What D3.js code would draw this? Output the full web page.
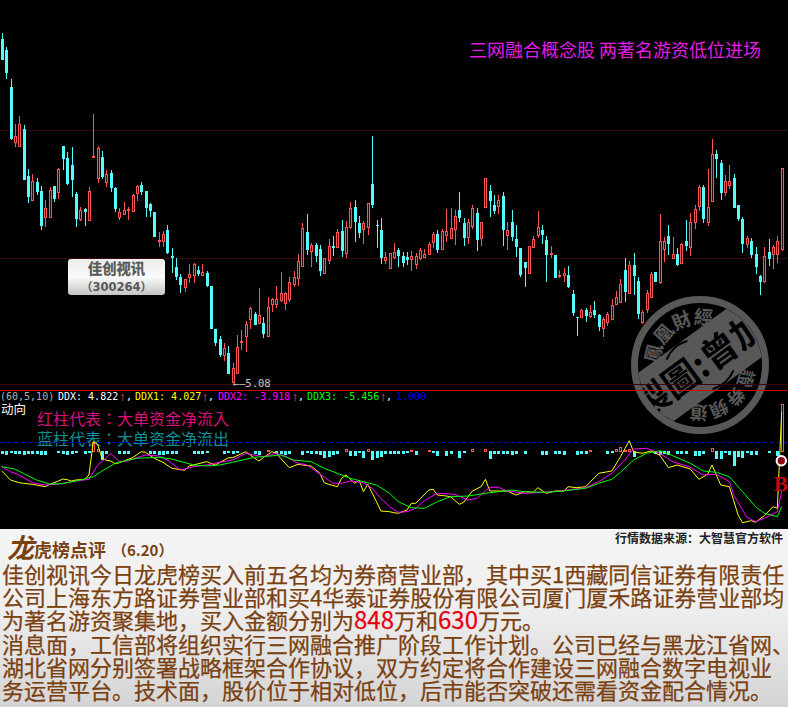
<!DOCTYPE html>
<html>
<head>
<meta charset="utf-8">
<script src="https://cdnjs.cloudflare.com/ajax/libs/d3/7.8.5/d3.min.js"></script>
<style>
html, body { margin: 0; padding: 0; background: #000; }
svg { display: block; }
</style>
</head>
<body>
<div id="chart"></div>
<script>
// daily candles
var open = [
  8.52,8.41,8.04,7.49,7.45,7.62,7.15,6.91,7.09,7.00,
  6.74,6.74,7.05,6.99,7.45,7.33,7.26,6.97,6.72,6.82,
  6.71,7.34,7.13,7.34,7.09,7.18,7.03,6.74,6.77,6.81,
  6.80,6.98,7.06,7.00,6.87,6.79,6.50,6.50,6.61,6.35,
  6.24,6.14,6.04,6.14,6.16,6.21,6.16,6.18,6.05,5.62,
  5.52,5.36,5.38,5.09,5.18,5.49,5.55,5.72,5.77,5.68,
  5.68,5.55,5.87,5.87,5.91,5.88,5.92,6.07,6.13,6.25,
  6.59,6.40,6.46,6.42,6.18,6.31,6.45,6.44,6.60,6.38,
  6.64,6.84,6.68,6.62,6.64,7.07,6.66,6.61,6.31,6.23,
  6.34,6.41,6.35,6.34,6.32,6.27,6.33,6.34,6.37,6.49,
  6.57,6.42,6.56,6.53,6.62,6.81,6.68,6.54,6.65,6.78,
  6.53,6.84,7.00,6.86,6.85,6.95,6.56,6.69,6.52,6.43,
  6.29,6.18,6.44,6.56,6.61,6.51,6.37,6.36,6.15,6.16,
  6.16,5.97,5.74,5.74,5.81,5.75,5.81,5.76,5.63,5.69,
  5.72,5.87,5.89,6.21,5.98,6.26,6.10,5.69,5.82,5.94,
  6.19,6.09,6.42,6.55,6.33,6.37,6.28,6.50,6.44,6.69,
  6.85,7.04,6.69,6.90,7.37,7.28,6.99,7.06,7.13,6.86,
  6.72,6.47,6.50,6.37,6.15,6.10,6.39,6.37,6.37,6.42
];
var close = [
  8.31,8.18,7.52,7.55,7.67,7.11,6.94,7.10,6.99,6.65,
  6.83,7.01,6.92,7.22,7.32,7.07,7.11,6.72,6.81,6.79,
  7.00,7.35,7.43,7.14,7.17,7.03,6.82,6.79,6.81,6.82,
  6.96,7.05,6.99,6.83,6.80,6.54,6.51,6.57,6.38,6.33,
  6.14,6.06,6.12,6.17,6.27,6.17,6.19,6.05,5.62,5.48,
  5.36,5.43,5.17,5.23,5.44,5.50,5.67,5.83,5.66,5.76,
  5.57,5.84,5.92,5.92,5.98,5.98,6.09,6.14,6.30,6.63,
  6.41,6.46,6.35,6.20,6.33,6.45,6.43,6.59,6.40,6.64,
  6.83,6.69,6.58,6.68,6.88,6.86,6.65,6.33,6.34,6.38,
  6.39,6.35,6.28,6.31,6.35,6.35,6.41,6.37,6.47,6.57,
  6.41,6.60,6.60,6.63,6.75,6.73,6.53,6.69,6.83,6.51,
  6.69,7.13,6.90,6.80,6.91,6.61,6.61,6.54,6.44,6.16,
  6.23,6.45,6.52,6.64,6.56,6.36,6.38,6.13,6.16,6.18,
  6.04,5.78,5.73,5.81,5.75,5.79,5.76,5.64,5.72,5.77,
  5.86,5.94,6.07,5.99,6.26,6.15,5.77,5.79,5.98,6.17,
  6.09,6.50,6.50,6.47,6.37,6.26,6.47,6.45,6.69,6.82,
  7.04,6.72,6.84,7.37,7.32,6.98,7.10,7.10,6.83,6.72,
  6.47,6.53,6.36,6.24,6.09,6.35,6.32,6.44,6.50,7.23
];
var high = [
  8.58,8.44,8.12,7.67,7.75,7.66,7.22,7.17,7.13,7.05,
  6.91,7.04,7.05,7.23,7.45,7.39,7.44,6.99,6.84,6.83,
  7.04,7.77,7.45,7.40,7.21,7.21,7.04,6.83,6.89,6.84,
  6.97,7.06,7.09,7.00,6.88,6.79,6.59,6.60,6.66,6.43,
  6.33,6.17,6.12,6.27,6.28,6.25,6.27,6.20,6.05,5.62,
  5.55,5.48,5.45,5.28,5.56,5.61,5.70,5.84,5.79,6.03,
  5.74,5.94,5.93,6.05,6.19,5.99,6.14,6.20,6.37,6.68,
  6.77,6.48,6.48,6.46,6.33,6.52,6.55,6.62,6.71,6.70,
  6.89,6.91,6.75,6.70,6.88,7.55,6.71,6.73,6.39,6.38,
  6.48,6.43,6.39,6.39,6.40,6.38,6.43,6.42,6.49,6.59,
  6.61,6.62,6.82,6.83,6.81,6.99,6.73,6.72,6.86,6.83,
  6.69,7.13,7.06,6.96,6.96,6.99,6.69,6.81,6.66,6.43,
  6.29,6.45,6.55,6.80,6.66,6.55,6.45,6.36,6.21,6.23,
  6.25,6.01,5.74,5.82,5.83,5.86,5.90,5.77,5.74,5.79,
  5.92,6.00,6.12,6.33,6.30,6.38,6.14,5.81,6.01,6.19,
  6.19,6.77,6.54,6.66,6.54,6.43,6.48,6.71,6.78,6.86,
  7.06,7.06,7.22,7.52,7.41,7.31,7.16,7.26,7.17,6.86,
  6.74,6.55,6.53,6.44,6.16,6.44,6.52,6.46,6.55,7.23
];
var low = [
  8.31,8.12,7.51,7.44,7.45,7.11,6.88,6.91,6.96,6.61,
  6.64,6.74,6.89,6.92,7.21,7.06,6.94,6.64,6.70,6.65,
  6.71,7.34,7.08,7.12,7.04,6.99,6.79,6.71,6.77,6.71,
  6.80,6.90,6.96,6.74,6.74,6.54,6.44,6.44,6.37,6.18,
  6.11,5.98,5.99,6.08,6.08,6.15,6.15,6.04,5.62,5.45,
  5.34,5.30,5.17,5.08,5.17,5.41,5.39,5.62,5.66,5.67,
  5.53,5.55,5.79,5.83,5.89,5.81,5.89,6.04,6.05,6.24,
  6.36,6.24,6.29,6.15,6.18,6.27,6.35,6.43,6.34,6.33,
  6.62,6.49,6.53,6.47,6.56,6.83,6.43,6.27,6.27,6.23,
  6.32,6.24,6.24,6.26,6.20,6.22,6.31,6.33,6.37,6.43,
  6.38,6.41,6.49,6.52,6.46,6.69,6.45,6.47,6.62,6.40,
  6.45,6.84,6.74,6.77,6.77,6.45,6.41,6.50,6.34,6.14,
  6.04,6.18,6.44,6.53,6.47,6.09,6.33,6.13,6.13,6.09,
  6.03,5.75,5.55,5.73,5.69,5.73,5.73,5.60,5.54,5.65,
  5.71,5.86,5.88,5.89,5.97,5.96,5.72,5.67,5.78,5.93,
  6.09,6.07,6.29,6.36,6.32,6.25,6.27,6.40,6.35,6.62,
  6.80,6.68,6.65,6.90,7.13,6.91,6.95,7.02,6.83,6.70,
  6.38,6.43,6.33,6.17,5.96,6.08,6.25,6.22,6.28,6.40
];
var priceGrid = [7.61, 6.335, 5.07];

// DDX bars, one per candle
var ddx = [
  -.2,-.25,-.1,-.2,-.2,-.3,-.2,-.2,-.2,-.25,
  -.25,.1,.1,-.1,-.15,-.25,-.2,-.1,.1,-.2,
  -.1,1.0,.3,-.8,-.2,.1,.1,-.2,-.2,-.2,
  .05,.1,.15,.15,-.2,-.2,-.25,-.25,-.2,-.2,
  -.2,.05,.1,.1,-.2,-.2,-.2,-.1,.1,.1,
  .1,-.2,-.1,-.2,-.1,.1,.1,.1,-.2,-.25,
  .1,.25,.05,-.2,-.2,-.3,-.2,.1,.1,-.25,
  -.05,-.2,-.2,-.3,-.55,-.5,-.25,-.2,.05,.35,
  -.35,-.35,-.05,-.55,.35,-.8,-.55,-.5,-.2,-.2,
  -.2,-.2,-.2,-.05,.25,-.25,.1,.15,.2,-.1,
  -.4,.05,-.4,-.2,.05,-.6,-.1,.1,.35,.05,
  .05,.35,-.7,-.2,-.2,-.2,-.2,-.3,-.15,.1,
  -.2,.05,.05,.1,-.3,-.3,.05,-.2,-.2,-.25,
  .1,.05,-.25,-.15,-.15,.25,.1,.1,.1,-.15,
  -.1,.3,.5,.25,.3,-.5,.05,.1,.1,.1,
  -.2,-.3,-.2,-.3,.05,-.15,-.2,-.2,.05,-.4,
  -.4,-.15,.15,.4,-.65,-.65,-.1,-.3,-1.4,-.5,
  -.55,-.1,-.25,-.3,.1,.1,-.1,.15,-.35,4.822
];
var ddxThreshold = 1.000;

// indicator lines, the turning points of each with the candle they fall on
var ddx1Idx = [0,2,4,5,7,10,11,13,14,15,16,17,19,20,21,22,23,24,25,26,27,28,30,32,33,35,37,39,42,43,47,49,52,53,56,57,59,
  60,62,63,64,66,68,69,71,73,74,75,77,78,79,81,82,83,84,86,87,89,90,91,93,94,95,98,99,100,102,103,105,106,108,110,111,112,114,116,118,120,
  122,123,125,127,129,130,132,134,137,140,142,144,145,147,149,151,153,155,158,160,162,163,165,167,169,170,172,173,175,177,178,179];
var ddx1 = [-1.90,-2.80,-3.07,-3.13,-3.23,-3.47,-3.23,-2.90,-2.70,-2.77,-2.90,-2.80,-2.73,-2.30,1.03,.77,-.63,-.83,-.90,-1.17,-1.07,-.90,-.57,.03,-.03,-.63,-1.03,-1.63,-1.83,-1.40,-.97,-1.30,-.57,-.57,.03,-.30,-.90,
  -.57,.03,-.13,-.63,-1.57,-1.23,-1.30,-1.40,-2.13,-3.07,-3.23,-3.47,-2.63,-2.30,-3.13,-2.80,-3.97,-3.23,-4.97,-5.90,-5.97,-6.07,-6.13,-5.80,-5.13,-5.13,-3.80,-3.73,-4.30,-4.40,-4.47,-5.23,-5.03,-3.90,-3.47,-2.73,-3.90,-3.90,-3.90,-4.30,-3.97,
  -4.03,-3.57,-4.13,-3.90,-3.90,-3.47,-3.57,-3.47,-2.13,-1.90,-.47,1.13,.03,-.13,.10,-.30,-1.57,-1.30,-1.70,-2.73,-2.23,-1.30,-3.30,-3.47,-6.30,-7.07,-6.87,-7.03,-6.37,-5.47,-5.63,4.027];

var ddx2Idx = [0,2,4,7,10,13,16,20,21,22,23,25,27,29,30,33,36,38,41,44,47,50,53,56,59,
  60,63,65,68,70,72,75,76,78,80,83,85,87,89,91,93,95,97,100,104,107,109,112,114,116,120,
  124,128,131,134,137,140,143,145,148,151,154,158,161,164,167,168,171,173,175,178,179];
var ddx2 = [-1.47,-1.97,-2.30,-3.07,-3.30,-3.20,-2.97,-2.73,-2.03,-1.30,-.97,-.13,-.97,-.90,-.70,-.30,-.40,-.80,-1.80,-1.47,-1.30,-1.03,-.80,-.13,-.40,
  -.47,-.13,-.40,-1.13,-1.30,-1.90,-2.80,-3.13,-3.13,-2.90,-3.07,-3.63,-4.63,-5.47,-6.03,-5.97,-5.63,-4.87,-4.13,-4.23,-4.80,-4.63,-3.53,-3.53,-3.90,-4.13,
  -4.03,-3.90,-3.73,-3.57,-2.97,-2.13,-.80,.30,.37,-.13,-.97,-1.53,-2.30,-2.23,-2.97,-4.30,-6.53,-6.97,-6.63,-5.97,-3.918];

var ddx3Idx = [0,3,6,8,11,14,18,21,23,26,28,31,36,39,44,47,50,53,58,
  60,64,67,71,74,77,80,83,86,89,91,94,97,100,103,107,111,114,117,120,
  125,129,134,137,140,142,145,148,151,154,158,161,164,167,170,173,175,178,179];
var ddx3 = [-1.47,-1.70,-2.37,-2.80,-3.20,-3.17,-2.80,-2.47,-1.90,-1.13,-.90,-.63,-.53,-.70,-1.30,-1.40,-1.30,-1.03,-.53,
  -.47,-.30,-.80,-.97,-1.63,-2.13,-2.63,-2.97,-3.30,-4.13,-4.97,-5.57,-5.63,-4.97,-4.47,-4.40,-4.13,-3.97,-3.80,-3.97,
  -4.03,-3.90,-3.63,-3.13,-2.73,-2.03,-.80,-.13,.13,-.37,-1.13,-1.90,-2.03,-2.47,-3.97,-5.47,-6.13,-6.47,-5.456];

var titleText = "三网融合概念股 两著名游资低位进场";
var lowLabel = 5.08;
var bodyLines = [
  [["佳创视讯今日龙虎榜买入前五名均为券商营业部，其中买1西藏同信证券有限责任", 0]],
  [["公司上海东方路证券营业部和买4华泰证券股份有限公司厦门厦禾路证券营业部均", 0]],
  [["为著名游资聚集地，买入金额分别为", 0], ["848", 1], ["万和", 0], ["630", 1], ["万元。", 0]],
  [["消息面，工信部将组织实行三网融合推广阶段工作计划。公司已经与黑龙江省网、", 0]],
  [["湖北省网分别签署战略框架合作协议，双方约定将合作建设三网融合数字电视业", 0]],
  [["务运营平台。技术面，股价位于相对低位，后市能否突破还需看资金配合情况。", 0]]
];

var width = 788, height = 707;
var CYAN = "#54fcfc", RED = "#ff5454";
var CJK = "'Noto Sans CJK SC', sans-serif";
var CJKT = "'Noto Sans CJK TC', sans-serif";
var MONO = "'DejaVu Sans Mono', monospace";

var svg = d3.select("#chart").append("svg")
    .attr("width", width)
    .attr("height", height)
    .style("background", "#000");

var defs = svg.append("defs");

var x = d3.scaleLinear().domain([0, open.length - 1]).range([1.8, 781.7]);
var yPrice = d3.scaleLinear().domain([8.91, 5.0]).range([0, 391]);
var yDdx = d3.scaleLinear().domain([6.1, -7.7]).range([391, 529]);

function px(v) { return Math.round(v) + 0.5; }

// stamp first, the chart draws over it
drawStamp(700, 365, 69);

// price grid
svg.selectAll(".grid").data(priceGrid).enter().append("line")
    .attr("x1", 0).attr("x2", width)
    .attr("y1", function(d) { return px(yPrice(d)); })
    .attr("y2", function(d) { return px(yPrice(d)); })
    .attr("stroke", "#3c0606")
    .attr("shape-rendering", "crispEdges");

// candles
var candles = svg.append("g").attr("shape-rendering", "crispEdges")
    .selectAll("g").data(open).enter().append("g")
    .each(function(o, i) {
        var g = d3.select(this);
        var up = close[i] >= o;
        var col = up ? RED : CYAN;
        var cx = Math.round(x(i));
        var top = yPrice(Math.max(o, close[i]));
        var bot = yPrice(Math.min(o, close[i]));
        g.append("line")
            .attr("x1", cx + 0.5).attr("x2", cx + 0.5)
            .attr("y1", yPrice(high[i])).attr("y2", top)
            .attr("stroke", col);
        g.append("line")
            .attr("x1", cx + 0.5).attr("x2", cx + 0.5)
            .attr("y1", bot).attr("y2", yPrice(low[i]))
            .attr("stroke", col);
        if (up) {
            g.append("rect")
                .attr("x", cx - 1 + 0.5).attr("y", px(top))
                .attr("width", 2).attr("height", Math.max(0, Math.round(bot - top)))
                .attr("fill", "#2a0808").attr("stroke", col);
        } else {
            g.append("rect")
                .attr("x", cx - 1).attr("y", Math.round(top))
                .attr("width", 3).attr("height", Math.max(1, Math.round(bot - top)))
                .attr("fill", col);
        }
    });

// low annotation
svg.append("text")
    .attr("x", x(53)).attr("y", yPrice(lowLabel) + 4)
    .attr("font-family", MONO).attr("font-size", 10.5)
    .attr("fill", "#c8c8c8")
    .text("←—" + lowLabel.toFixed(2));

// title
svg.append("text")
    .attr("x", 469).attr("y", 56.5)
    .attr("font-family", CJK).attr("font-size", 18)
    .attr("fill", "#e31ce3")
    .attr("xml:space", "preserve")
    .text(titleText);

// stock label
var lab = defs.append("linearGradient").attr("id", "labFill")
    .attr("x1", 0).attr("y1", 0).attr("x2", 0).attr("y2", 1);
lab.append("stop").attr("offset", 0).attr("stop-color", "#ececec");
lab.append("stop").attr("offset", 0.5).attr("stop-color", "#fbfbfb");
lab.append("stop").attr("offset", 1).attr("stop-color", "#c4c4c4");
svg.append("rect")
    .attr("x", 68).attr("y", 259).attr("width", 97).attr("height", 36)
    .attr("rx", 3).attr("fill", "url(#labFill)");
svg.append("text")
    .attr("x", 116.5).attr("y", 274)
    .attr("text-anchor", "middle")
    .attr("font-family", CJK).attr("font-weight", "bold").attr("font-size", 14.3)
    .attr("fill", "#585858")
    .attr("stroke", "#585858").attr("stroke-width", 0.3)
    .text("佳创视讯");
svg.append("text")
    .attr("x", 116.5).attr("y", 291)
    .attr("text-anchor", "middle")
    .attr("font-family", "'DejaVu Sans', " + CJK).attr("font-weight", "bold").attr("font-size", 11.5)
    .attr("fill", "#585858")
    .text("（300264）");

// panel separator
svg.append("line")
    .attr("x1", 0).attr("x2", width).attr("y1", 390.5).attr("y2", 390.5)
    .attr("stroke", "#d40000").attr("shape-rendering", "crispEdges");

// indicator header
var hdrY = 400;
function hdr(px0, s, col) {
    svg.append("text").attr("x", px0).attr("y", hdrY)
        .attr("font-family", MONO).attr("font-size", 10)
        .attr("fill", col).attr("xml:space", "preserve")
        .text(s);
}
function arrow(px0) {
    svg.append("text").attr("x", px0).attr("y", hdrY + 0.5)
        .attr("text-anchor", "middle")
        .attr("font-family", "'Liberation Sans', sans-serif").attr("font-size", 13)
        .attr("fill", RED)
        .text("↑");
}
hdr(0, "(60,5,10)", "#b0b0b0");
hdr(58, "DDX: " + ddx[ddx.length - 1].toFixed(3), "#ffffff");
arrow(122.5);
hdr(126, ",", "#ffffff");
hdr(135, "DDX1: " + ddx1[ddx1.length - 1].toFixed(3), "#ffff00");
arrow(205);
hdr(208, ",", "#ffffff");
hdr(218, "DDX2: " + ddx2[ddx2.length - 1].toFixed(3), "#ff00ff");
arrow(295);
hdr(298, ",", "#ffffff");
hdr(307, "DDX3: " + ddx3[ddx3.length - 1].toFixed(3), "#00ff00");
arrow(383);
hdr(386, ",", "#ffffff");
hdr(396, ddxThreshold.toFixed(3), "#0000e0");

svg.append("text").attr("x", 1).attr("y", 414)
    .attr("font-family", CJK).attr("font-size", 12.5).attr("fill", "#ffffff")
    .text("动向");

svg.append("text").attr("x", 37).attr("y", 424.5)
    .attr("font-family", CJKT).attr("font-size", 16).attr("fill", "#d8107c")
    .text("红柱代表：大单资金净流入");
svg.append("text").attr("x", 37).attr("y", 445)
    .attr("font-family", CJKT).attr("font-size", 16).attr("fill", "#0e9096")
    .text("蓝柱代表：大单资金净流出");

// threshold line
svg.append("line")
    .attr("x1", 0).attr("x2", width)
    .attr("y1", px(yDdx(ddxThreshold))).attr("y2", px(yDdx(ddxThreshold)))
    .attr("stroke", "#0000d8")
    .attr("stroke-dasharray", "4,3")
    .attr("shape-rendering", "crispEdges");

// DDX bars
svg.append("g").attr("shape-rendering", "crispEdges")
    .selectAll("rect").data(ddx).enter().append("rect")
    .each(function(d, i) {
        var cx = Math.round(x(i));
        var zero = Math.round(yDdx(0)) - 1;
        var r = d3.select(this);
        if (d >= 0) {
            var yy = Math.round(yDdx(d));
            r.attr("x", cx - 0.5).attr("y", yy + 0.5)
                .attr("width", 2).attr("height", Math.max(0, zero - yy))
                .attr("fill", "none").attr("stroke", RED);
        } else {
            r.attr("x", cx - 1).attr("y", zero)
                .attr("width", 3).attr("height", Math.max(1, Math.round(yDdx(d) - zero)))
                .attr("fill", CYAN);
        }
    });

// lines
var line = d3.line()
    .x(function(d) { return x(d[0]); })
    .y(function(d) { return yDdx(d[1]); });

var series = [
    { idx: ddx1Idx, val: ddx1, col: "#ffff00" },
    { idx: ddx2Idx, val: ddx2, col: "#ff00ff" },
    { idx: ddx3Idx, val: ddx3, col: "#00ff00" }
];
series.forEach(function(s) {
    svg.append("path")
        .datum(s.idx.map(function(k, j) { return [k, s.val[j]]; }))
        .attr("d", line)
        .attr("fill", "none")
        .attr("stroke", s.col)
        .attr("stroke-width", 1);
});

// buy signal
var lastX = x(open.length - 1);
svg.append("circle").attr("cx", lastX - 0.4).attr("cy", 460.7).attr("r", 4.7)
    .attr("fill", "#8a0a10").attr("stroke", "#ffffff").attr("stroke-width", 2);
svg.append("text")
    .attr("x", lastX - 0.8).attr("y", 491)
    .attr("text-anchor", "middle")
    .attr("font-family", "'Liberation Serif', serif").attr("font-weight", "bold").attr("font-size", 21)
    .attr("fill", "#c80a0a")
    .text("B");

// commentary panel
var panel = defs.append("linearGradient").attr("id", "panelFill")
    .attr("x1", 0).attr("y1", 0).attr("x2", 0).attr("y2", 1);
panel.append("stop").attr("offset", 0).attr("stop-color", "#f4f4f4");
panel.append("stop").attr("offset", 0.45).attr("stop-color", "#eeeeee");
panel.append("stop").attr("offset", 1).attr("stop-color", "#d4d4d4");
svg.append("rect")
    .attr("x", 0).attr("y", 529).attr("width", width).attr("height", height - 529)
    .attr("fill", "url(#panelFill)");

var BROWN = "#7a4010";
svg.append("text").attr("x", 7).attr("y", 558)
    .attr("font-family", CJK).attr("font-weight", "bold").attr("font-style", "italic").attr("font-size", 27)
    .attr("fill", BROWN).text("龙");
svg.append("text").attr("x", 34).attr("y", 557)
    .attr("font-family", CJK).attr("font-weight", "bold").attr("font-size", 18)
    .attr("fill", BROWN).text("虎榜点评");
svg.append("text").attr("x", 112).attr("y", 556)
    .attr("font-family", CJK).attr("font-weight", "bold").attr("font-size", 15)
    .attr("fill", BROWN).text("（6.20）");
svg.append("text").attr("x", 783).attr("y", 543)
    .attr("text-anchor", "end")
    .attr("font-family", CJK).attr("font-weight", "bold").attr("font-size", 12)
    .attr("fill", "#222222").text("行情数据来源：大智慧官方软件");

var body = svg.append("g").selectAll("text").data(bodyLines).enter().append("text")
    .attr("x", 2)
    .attr("y", function(d, i) { return 583 + i * 23.2; })
    .attr("font-family", CJK)
    .attr("font-size", 22)
    .attr("fill", BROWN)
    .attr("stroke", BROWN)
    .attr("stroke-width", 0.25);
body.selectAll("tspan").data(function(d) { return d; }).enter().append("tspan")
    .attr("fill", function(d) { return d[1] ? "#e60012" : null; })
    .attr("stroke", function(d) { return d[1] ? "#e60012" : null; })
    .attr("font-size", function(d) { return d[1] ? 24 : null; })
    .text(function(d) { return d[0]; });

function drawStamp(cx, cy, r) {
    var GRAY = "#585858";
    var g = svg.append("g").attr("transform", "translate(" + cx + "," + cy + ")");
    var clip = defs.append("clipPath").attr("id", "stampClip");
    clip.append("circle").attr("r", r - 7);

    g.append("circle").attr("r", r - 3.5).attr("fill", "#000")
        .attr("stroke", GRAY).attr("stroke-width", 7);

    // band across the disc
    var band = g.append("g").attr("clip-path", "url(#stampClip)")
        .append("g").attr("transform", "rotate(-36)");
    band.append("rect").attr("x", -r).attr("y", -30)
        .attr("width", 2 * r).attr("height", 60).attr("fill", GRAY);
    band.append("path").attr("d", "M-24,-24 A34,34 0 0 1 4,-27")
        .attr("fill", "none").attr("stroke", "#000").attr("stroke-width", 2);
    band.append("path").attr("d", "M24,24 A34,34 0 0 1 -4,27")
        .attr("fill", "none").attr("stroke", "#000").attr("stroke-width", 2);
    band.append("text")
        .attr("y", 13)
        .attr("text-anchor", "middle")
        .attr("font-family", CJKT)
        .attr("font-weight", "bold").attr("font-size", 36)
        .attr("fill", "#000")
        .text("製圖:曾加");

    function arcPath(id, rad, a0, a1) {
        var p0 = [rad * Math.cos(a0 * Math.PI / 180), rad * Math.sin(a0 * Math.PI / 180)];
        var p1 = [rad * Math.cos(a1 * Math.PI / 180), rad * Math.sin(a1 * Math.PI / 180)];
        defs.append("path").attr("id", id)
            .attr("d", "M" + p0 + " A" + rad + "," + rad + " 0 0 1 " + p1);
    }
    arcPath("stampTop", 41, -190, -62);
    arcPath("stampBot", 41, -10, 118);

    g.append("text")
        .attr("font-family", CJKT)
        .attr("font-weight", "bold").attr("font-size", 19).attr("fill", GRAY)
        .append("textPath").attr("href", "#stampTop").attr("startOffset", "50%")
        .attr("text-anchor", "middle").text("鳳凰財經");
    g.append("text")
        .attr("font-family", CJKT)
        .attr("font-weight", "bold").attr("font-size", 18).attr("fill", GRAY)
        .append("textPath").attr("href", "#stampBot").attr("startOffset", "50%")
        .attr("text-anchor", "middle").text("證券頻道");
}
</script>
</body>
</html>
